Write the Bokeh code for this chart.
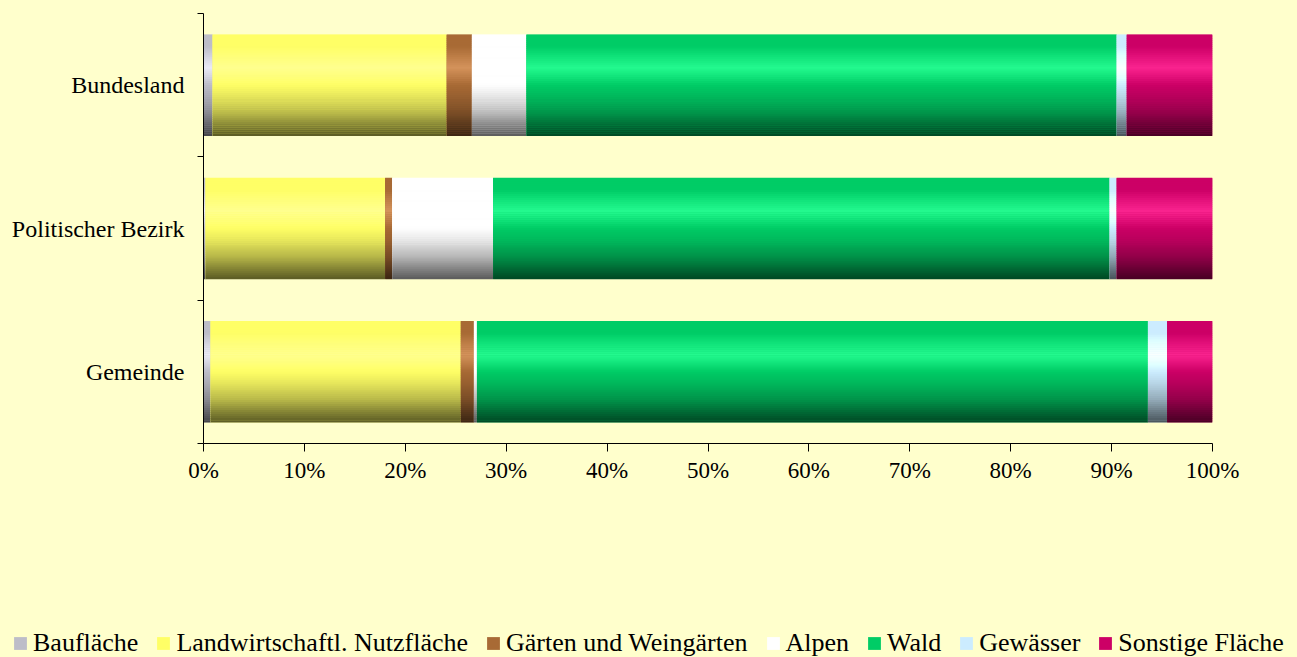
import numpy as np
from bokeh.plotting import figure
from bokeh.layouts import column
from bokeh.models import (Range1d, FixedTicker, PrintfTickFormatter, Legend,
                          LegendItem, ColumnDataSource)
from bokeh.embed import file_html
from bokeh.resources import INLINE

# ---------------- data (percent of area) ----------------
categories = ["Bundesland", "Politischer Bezirk", "Gemeinde"]   # top to bottom
series_names = ["Baufläche", "Landwirtschaftl. Nutzfläche", "Gärten und Weingärten",
                "Alpen", "Wald", "Gewässer", "Sonstige Fläche"]
bauflaeche = [0.9, 0.2, 0.7]
landwirtschaft = [23.2, 17.8, 24.8]
gaerten = [2.5, 0.7, 1.3]
alpen = [5.4, 10.0, 0.3]
wald = [58.5, 61.1, 66.5]
gewaesser = [1.0, 0.7, 1.9]
sonstige = [8.5, 9.5, 4.5]
x_ticks = [0, 10, 20, 30, 40, 50, 60, 70, 80, 90, 100]

series_values = [bauflaeche, landwirtschaft, gaerten, alpen, wald, gewaesser, sonstige]
base_colors = ["#BDBDC8", "#FFFF66", "#A86A35", "#FFFFFF", "#00CC66", "#CCECFF", "#CC0066"]

BG = "#FFFFCC"
FONT = "Liberation Serif"
BAR_H = 0.705
N_STRIPS = 50
W = 1297
H_MAIN = 560
H_LEG = 97

# vertical shading profile of the bars (t = 0 top, 1 bottom)
t_pts = [0.0, 0.12, 0.33, 0.5, 0.62, 0.78, 0.9, 1.0]
scale_pts = [1.0, 1.0, 1.22, 1.0, 0.9, 0.72, 0.52, 0.36]
white_pts = [0.0, 0.0, 0.14, 0.0, 0.0, 0.0, 0.0, 0.0]


def hex_to_rgb(h):
    h = h.lstrip("#")
    return np.array([int(h[i:i + 2], 16) for i in (0, 2, 4)], dtype=float)


def shade(hexcol, t):
    rgb = hex_to_rgb(hexcol)
    s = np.interp(t, t_pts, scale_pts)
    w = np.interp(t, t_pts, white_pts)
    c = np.clip(rgb * s, 0, 255)
    c = c * (1 - w) + 255 * w
    c = np.clip(c, 0, 255).astype(int)
    return "#%02x%02x%02x" % tuple(c)


n_cat = len(categories)
y_centers = [n_cat - 1 - i + 0.5 for i in range(n_cat)]

p = figure(width=W, height=H_MAIN, output_backend="svg", toolbar_location=None,
           x_range=Range1d(0, 100), y_range=Range1d(0, n_cat),
           min_border_left=203, min_border_right=85, min_border_top=13,
           min_border_bottom=H_MAIN - 443)
p.frame_align = False
p.background_fill_color = BG
p.border_fill_color = BG
p.outline_line_color = None
p.xgrid.visible = False
p.ygrid.visible = False

# separate small figure that only carries the legend
lf = figure(width=W, height=H_LEG, output_backend="svg", toolbar_location=None,
            x_range=Range1d(0, 100), y_range=Range1d(10, 11),
            x_axis_type=None, y_axis_type=None,
            min_border_left=0, min_border_right=0, min_border_top=0, min_border_bottom=0)
lf.frame_align = False
lf.background_fill_color = BG
lf.border_fill_color = BG
lf.outline_line_color = None

starts = np.zeros(n_cat)
legend_items = []
strip_h = BAR_H / N_STRIPS
for name, vals, col in zip(series_names, series_values, base_colors):
    vals = np.array(vals, dtype=float)
    lefts = starts.copy()
    rights = starts + vals
    starts = rights
    base_src = ColumnDataSource(dict(y=y_centers, left=lefts, right=rights))
    p.hbar(y="y", left="left", right="right", height=BAR_H, source=base_src,
           fill_color=col, line_color=None)
    leg_r = lf.hbar(y="y", left="left", right="right", height=BAR_H, source=base_src,
                    fill_color=col, line_color=None)
    ys, ls, rs, cs = [], [], [], []
    for k in range(N_STRIPS):
        t = (k + 0.5) / N_STRIPS
        c = shade(col, t)
        for i in range(n_cat):
            ys.append(y_centers[i] + BAR_H / 2 - (k + 0.5) * strip_h)
            ls.append(lefts[i])
            rs.append(rights[i])
            cs.append(c)
    strip_src = ColumnDataSource(dict(y=ys, left=ls, right=rs, color=cs))
    p.hbar(y="y", left="left", right="right", height=strip_h * 1.2, source=strip_src,
           fill_color="color", line_color=None)
    legend_items.append(LegendItem(label=name, renderers=[leg_r]))

# x axis
p.xaxis.ticker = FixedTicker(ticks=x_ticks, minor_ticks=[])
p.xaxis.formatter = PrintfTickFormatter(format="%d%%")
p.xaxis.major_tick_out = 8
p.xaxis.major_tick_in = 0
p.xaxis.major_label_standoff = 6
p.xaxis.major_label_text_font = FONT
p.xaxis.major_label_text_font_size = "23px"
p.xaxis.major_label_text_color = "black"
p.xaxis.axis_line_color = "black"
p.xaxis.major_tick_line_color = "black"

# y axis: labels at centres, tick marks at category boundaries
p.yaxis.ticker = FixedTicker(ticks=y_centers, minor_ticks=list(range(n_cat + 1)))
p.yaxis.major_label_overrides = {y_centers[i]: categories[i] for i in range(n_cat)}
p.yaxis.major_tick_out = 0
p.yaxis.major_tick_in = 0
p.yaxis.major_tick_line_color = None
p.yaxis.minor_tick_out = 6
p.yaxis.minor_tick_in = 0
p.yaxis.minor_tick_line_color = "black"
p.yaxis.major_label_standoff = 13
p.yaxis.major_label_text_font = FONT
p.yaxis.major_label_text_font_size = "24px"
p.yaxis.major_label_text_color = "black"
p.yaxis.axis_line_color = "black"

legend = Legend(items=legend_items, orientation="horizontal", location=(12, -1),
                background_fill_alpha=0, border_line_color=None, padding=0, margin=0,
                spacing=17, label_standoff=5, glyph_width=16, glyph_height=16,
                label_text_font=FONT, label_text_font_size="26px",
                label_text_color="black")
lf.add_layout(legend)

layout = column(p, lf, spacing=0, styles={"background-color": BG})
open("out.html", "w").write(file_html(layout, INLINE))
